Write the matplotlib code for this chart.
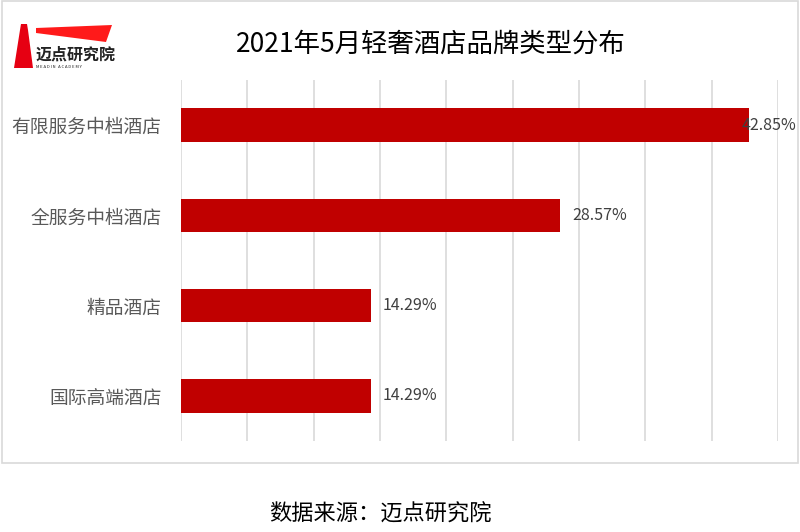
import matplotlib.pyplot as plt
from matplotlib.patches import Polygon, Rectangle

plt.rcParams['font.family'] = ['Noto Sans CJK SC', 'DejaVu Sans']

# data
categories = ['有限服务中档酒店', '全服务中档酒店', '精品酒店', '国际高端酒店']
shares = [42.85, 28.57, 14.29, 14.29]
title = '2021年5月轻奢酒店品牌类型分布'
source = '数据来源：迈点研究院'

W, H = 800, 532
fig = plt.figure(figsize=(W / 100, H / 100), dpi=100)

# outer frame of the chart area
fig.add_artist(Rectangle((2 / W, 1 - 463 / H), 796 / W, 462 / H,
                         transform=fig.transFigure, fill=False,
                         edgecolor='#d9d9d9', linewidth=1.2))

ax = fig.add_axes([181 / W, 1 - 441 / H, 597 / W, 361 / H])
ypos = list(range(len(categories)))
ax.barh(ypos, shares, height=0.37, color='#c00000', zorder=3)
ax.set_xlim(0, 45)
ax.set_ylim(len(categories) - 0.5, -0.5)
ax.set_xticks(range(0, 46, 5))
ax.set_xticklabels([])
ax.tick_params(axis='x', length=0)
ax.tick_params(axis='y', length=0, pad=14)
ax.set_yticks(ypos)
ax.set_yticklabels(categories, fontsize=13.5, color='#595959')
ax.grid(axis='x', color='#d9d9d9', linewidth=1.2, zorder=0)
for s in ax.spines.values():
    s.set_visible(False)

for i, v in enumerate(shares):
    off = -0.6 if v > 40 else 0.9
    ax.text(v + off, i, '%.2f%%' % v, va='center', ha='left',
            fontsize=11.5, color='#404040', zorder=4)

fig.text(431 / W, 1 - 44 / H, title, ha='center', va='center',
         fontsize=19, color='#000000')
fig.text(380 / W, 1 - 514 / H, source, ha='center', va='center',
         fontsize=16, color='#000000')

# logo
def px(x, y):
    return (x / W, 1 - y / H)

fig.add_artist(Polygon([px(36, 28), px(112, 25), px(106, 42), px(36, 33)],
                       closed=True, transform=fig.transFigure,
                       facecolor='#ff1a1a', edgecolor='none'))
fig.add_artist(Polygon([px(20, 30), px(28, 30), px(33, 68), px(14, 68)],
                       closed=True, transform=fig.transFigure,
                       facecolor='#e60012', edgecolor='none'))
fig.add_artist(Polygon([px(21, 24), px(27, 24), px(28, 30), px(20, 30)],
                       closed=True, transform=fig.transFigure,
                       facecolor='#e60012', edgecolor='none'))
fig.text(36 / W, 1 - 55 / H, '迈点研究院', ha='left', va='center',
         fontsize=11.5, fontweight='bold', color='#222222')
fig.text(36 / W, 1 - 67 / H, 'M E A D I N   A C A D E M Y', ha='left',
         va='center', fontsize=3, color='#222222')

fig.savefig('out.png', dpi=100)
